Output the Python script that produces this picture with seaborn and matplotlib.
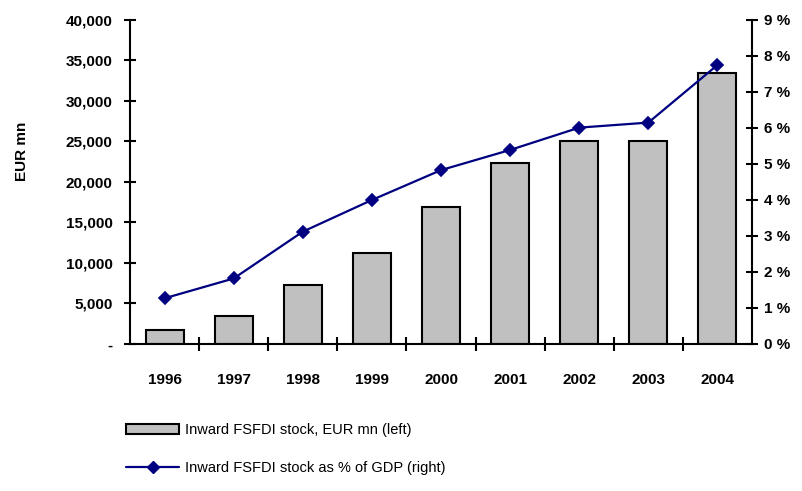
import matplotlib
matplotlib.use("Agg")
import matplotlib.pyplot as plt
from matplotlib.patches import Patch
from matplotlib.lines import Line2D
from matplotlib.ticker import FuncFormatter
import numpy as np
import pandas as pd
import seaborn as sns

years = ["1996", "1997", "1998", "1999", "2000", "2001", "2002", "2003", "2004"]
stock_eur_mn = [1700, 3400, 7300, 11200, 16900, 22400, 25000, 25000, 33400]
stock_pct_gdp = [1.27, 1.82, 3.12, 4.0, 4.83, 5.39, 6.01, 6.15, 7.75]
label_bars = "Inward FSFDI stock, EUR mn (left)"
label_line = "Inward FSFDI stock as % of GDP (right)"

sns.set_theme(style="white")
plt.rcParams["font.family"] = ["Liberation Sans", "DejaVu Sans"]
plt.rcParams["text.color"] = "black"
plt.rcParams["axes.labelcolor"] = "black"
plt.rcParams["xtick.color"] = "black"
plt.rcParams["ytick.color"] = "black"

df = pd.DataFrame({"year": years, "eur": stock_eur_mn, "pct": stock_pct_gdp})

fig = plt.figure(figsize=(8.03, 4.91), dpi=100)
ax = fig.add_axes([0.1619, 0.2994, 0.7746, 0.6599])
ax2 = ax.twinx()

bar_color = "#c0c0c0"
line_color = "#000080"

sns.barplot(data=df, x="year", y="eur", ax=ax, color=bar_color,
            edgecolor="black", linewidth=1.5, width=0.55, saturation=1)
sns.pointplot(data=df, x="year", y="pct", ax=ax2, color=line_color,
              markers="D", markersize=6, linewidth=1.6)

ax.set_xlim(-0.5, len(years) - 0.5)
ax.set_ylim(0, 40000)
ax.set_yticks(np.arange(0, 40001, 5000))
ax.yaxis.set_major_formatter(FuncFormatter(lambda v, p: "-" if v == 0 else f"{int(v):,}"))
ax2.set_ylim(0, 9)
ax2.set_yticks(np.arange(0, 10, 1))
ax2.yaxis.set_major_formatter(FuncFormatter(lambda v, p: f"{int(v)} %"))

ax.set_xlabel("")
ax.set_ylabel("EUR mn", fontsize=11, fontweight="bold", color="black")
ax.yaxis.set_label_coords(-0.163, 0.596)
ax2.set_xlabel("")
ax2.set_ylabel("")

for a in (ax, ax2):
    a.grid(False)
    for s in a.spines.values():
        s.set_visible(False)
ax.spines["left"].set_visible(True)
ax.spines["bottom"].set_visible(True)
ax2.spines["right"].set_visible(True)
for a in (ax, ax2):
    for s in a.spines.values():
        s.set_color("black")
        s.set_linewidth(1.5)

ax.tick_params(axis="y", direction="inout", length=9, width=1.5, colors="black",
               labelsize=11, left=True, pad=8)
ax2.tick_params(axis="y", direction="inout", length=9, width=1.5, colors="black",
                labelsize=11, right=True, pad=4)
ax.tick_params(axis="x", which="major", length=0, labelsize=11, pad=21, colors="black")
ax.set_xticks(np.arange(0.5, len(years) - 1, 1.0), minor=True)
ax.tick_params(axis="x", which="minor", direction="inout", length=10, width=1.5,
               colors="black", bottom=True)
for lbl in ax.get_xticklabels() + ax.get_yticklabels() + ax2.get_yticklabels():
    lbl.set_fontweight("bold")
    lbl.set_color("black")

handles = [
    Patch(facecolor=bar_color, edgecolor="black", linewidth=1.5),
    Line2D([0], [0], color=line_color, marker="D", markersize=6, linewidth=1.6),
]
fig.legend(handles, [label_bars, label_line], loc="upper left",
           bbox_to_anchor=(0.15, 0.15), frameon=False, fontsize=10.5,
           handlelength=3.6, handleheight=0.6, labelspacing=1.6, handletextpad=0.4,
           borderaxespad=0, labelcolor="black")

fig.savefig("out.png", dpi=100, facecolor="white")
